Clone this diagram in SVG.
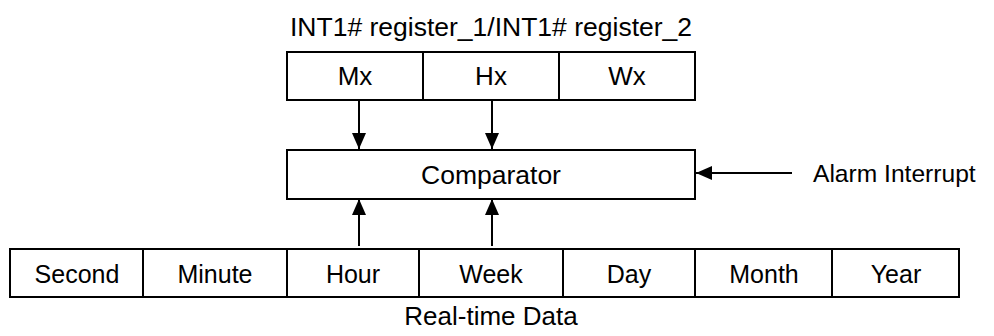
<svg xmlns="http://www.w3.org/2000/svg" width="994" height="336" viewBox="0 0 994 336">
<defs>
<style>
.box{fill:#fff;stroke:#000;stroke-width:2}
.div{stroke:#000;stroke-width:2}
.t{font-family:"Liberation Sans",Arial,sans-serif;font-size:25px;fill:#000;text-anchor:middle}
.big{font-size:26.5px}
.mid{font-size:26px}
.c{stroke:#000;stroke-width:2;fill:none}
</style>
<marker id="ah" viewBox="0 0 16 16" refX="16" refY="8" markerWidth="16" markerHeight="16" markerUnits="userSpaceOnUse" orient="auto">
<path d="M0,1 L16,8 L0,15 Z" fill="#000"/>
</marker>
</defs>
<rect width="994" height="336" fill="#fff"/>
<g id="register">
<text class="t big" x="491" y="36">INT1# register_1/INT1# register_2</text>
<rect class="box" x="287" y="52" width="408" height="48"/>
<line class="div" x1="423" y1="52" x2="423" y2="100"/>
<line class="div" x1="559" y1="52" x2="559" y2="100"/>
<text class="t mid" x="355" y="85">Mx</text>
<text class="t mid" x="491" y="85">Hx</text>
<text class="t mid" x="627" y="85">Wx</text>
</g>
<g id="comparator">
<rect class="box" x="287" y="150" width="408" height="49"/>
<text class="t big" x="491" y="184">Comparator</text>
</g>
<g id="alarm">
<text class="t" x="813" y="182" style="text-anchor:start;font-size:24.6px">Alarm Interrupt</text>
</g>
<g id="realtime">
<rect class="box" x="10" y="249" width="949" height="48"/>
<line class="div" x1="143" y1="249" x2="143" y2="297"/>
<line class="div" x1="287" y1="249" x2="287" y2="297"/>
<line class="div" x1="419" y1="249" x2="419" y2="297"/>
<line class="div" x1="563" y1="249" x2="563" y2="297"/>
<line class="div" x1="695" y1="249" x2="695" y2="297"/>
<line class="div" x1="832" y1="249" x2="832" y2="297"/>
<text class="t" x="77" y="283">Second</text>
<text class="t" x="215" y="283">Minute</text>
<text class="t" x="353" y="283">Hour</text>
<text class="t" x="491" y="283">Week</text>
<text class="t" x="629" y="283">Day</text>
<text class="t" x="764" y="283">Month</text>
<text class="t" x="896" y="283">Year</text>
<text class="t mid" x="491" y="325">Real-time Data</text>
</g>
<g id="connectors">
<line class="c" x1="359" y1="100" x2="359" y2="149" marker-end="url(#ah)"/>
<line class="c" x1="492" y1="100" x2="492" y2="149" marker-end="url(#ah)"/>
<line class="c" x1="359" y1="246" x2="359" y2="199" marker-end="url(#ah)"/>
<line class="c" x1="492" y1="246" x2="492" y2="199" marker-end="url(#ah)"/>
<line class="c" x1="792" y1="173" x2="696" y2="173" marker-end="url(#ah)"/>
</g>
</svg>
